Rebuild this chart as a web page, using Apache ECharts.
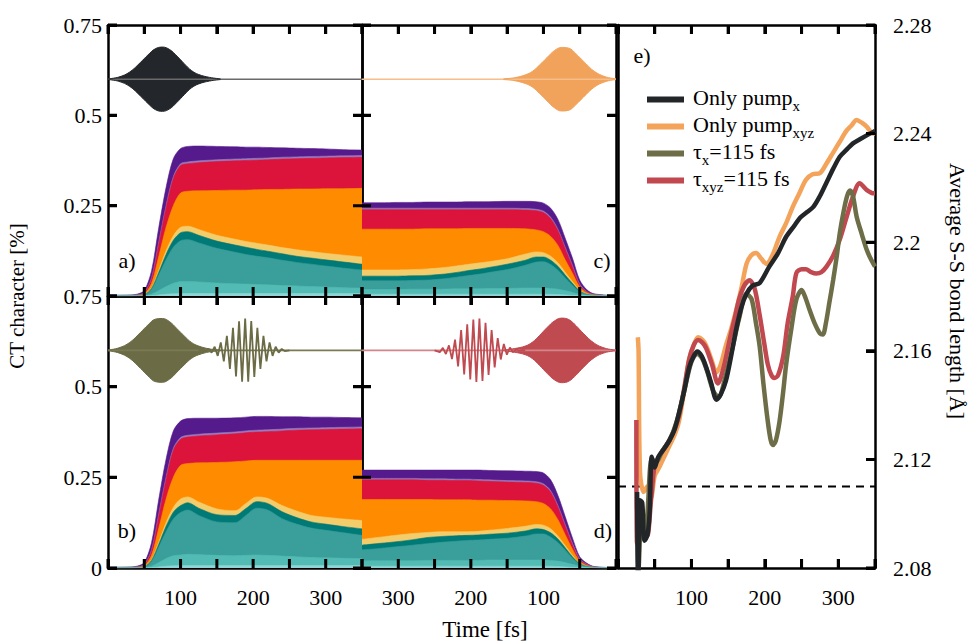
<!DOCTYPE html>
<html><head><meta charset="utf-8">
<script src="https://cdn.jsdelivr.net/npm/echarts@6/dist/echarts.min.js"></script>
<style>html,body{margin:0;padding:0;background:#fff}#c{width:974px;height:644px}</style>
</head><body><div id="c"></div>
<script>
const FONT = '"Liberation Serif", "Times New Roman", serif';

// ---------- stacked CT-character panels (cumulative layer tops) ----------
const timeGrid = [0,30,40,50,60,70,80,90,100,110,125,150,175,190,205,220,240,260,280,300,325,350];

const aPurple   = [.002,.003,.005,.015,.07,.19,.30,.38,.408,.414,.415,.414,.413,.412,.412,.411,.410,.409,.408,.407,.405,.404];
const aLavender = [.0015,.002,.003,.01,.05,.15,.25,.33,.366,.371,.374,.377,.379,.380,.381,.382,.384,.385,.386,.387,.388,.389];
const aCrimson  = [.001,.0015,.0025,.009,.047,.145,.245,.325,.361,.366,.369,.372,.374,.375,.376,.377,.379,.380,.381,.382,.383,.384];
const aOrange   = [.001,.001,.002,.006,.035,.11,.19,.25,.285,.29,.291,.292,.293,.293,.294,.295,.295,.296,.296,.297,.297,.298];
const aYellow   = [.0005,.0008,.0012,.004,.023,.072,.125,.167,.19,.193,.184,.168,.157,.151,.146,.141,.134,.128,.123,.118,.113,.108];
const aDarkTeal = [.0004,.0006,.001,.0035,.021,.066,.115,.154,.175,.178,.168,.152,.141,.135,.129,.124,.117,.110,.105,.100,.094,.088];
const aTeal     = [.0003,.0005,.0008,.003,.018,.058,.10,.135,.153,.156,.147,.132,.121,.115,.110,.106,.099,.093,.088,.083,.077,.072];
const aLightTeal= [.0002,.0003,.0005,.001,.005,.015,.026,.035,.040,.040,.039,.036,.034,.033,.032,.031,.029,.028,.026,.025,.023,.022];
const aPale     = [.0001,.0001,.0002,.0005,.001,.003,.005,.006,.007,.007,.007,.007,.007,.007,.007,.007,.007,.007,.007,.007,.007,.007];

const bPurple   = [.002,.003,.005,.015,.07,.19,.30,.378,.405,.412,.413,.413,.414,.416,.418,.418,.417,.417,.416,.416,.415,.414];
const bLavender = [.0015,.002,.003,.01,.05,.15,.25,.33,.36,.366,.369,.372,.375,.378,.380,.381,.383,.385,.386,.387,.388,.389];
const bCrimson  = [.001,.0015,.0025,.009,.047,.145,.245,.325,.355,.361,.364,.367,.370,.373,.375,.376,.378,.380,.381,.382,.383,.384];
const bOrange   = [.001,.001,.002,.006,.035,.11,.19,.25,.283,.288,.29,.291,.293,.295,.297,.297,.297,.297,.297,.297,.297,.297];
const bYellow   = [.0005,.0008,.0012,.004,.023,.072,.125,.167,.19,.196,.182,.163,.158,.178,.196,.192,.172,.157,.145,.140,.135,.131];
const bDarkTeal = [.0004,.0006,.001,.0035,.021,.066,.115,.154,.172,.180,.165,.147,.145,.164,.183,.178,.155,.139,.127,.121,.114,.108];
const bTeal     = [.0003,.0005,.0008,.003,.018,.058,.10,.135,.153,.160,.145,.127,.125,.145,.165,.160,.136,.121,.110,.104,.097,.090];
const bLightTeal= [.0002,.0003,.0005,.001,.005,.015,.026,.034,.036,.038,.037,.035,.034,.035,.036,.035,.033,.031,.029,.028,.027,.026];
const bPale     = [.0001,.0001,.0002,.0005,.001,.003,.005,.006,.007,.007,.007,.007,.007,.007,.007,.007,.007,.007,.007,.007,.007,.007];

const cPurple   = [.001,.006,.017,.044,.105,.16,.212,.243,.257,.261,.262,.262,.261,.261,.261,.260,.260,.260,.259,.259,.258,.258];
const cLavender = [.0008,.004,.012,.033,.085,.135,.185,.218,.235,.240,.242,.243,.243,.243,.243,.243,.243,.243,.243,.243,.243,.243];
const cCrimson  = [.0006,.0035,.011,.030,.081,.131,.181,.214,.231,.236,.238,.239,.239,.239,.239,.239,.239,.239,.239,.239,.239,.239];
const cOrange   = [.0006,.003,.009,.025,.063,.10,.14,.165,.178,.183,.186,.187,.187,.187,.187,.186,.186,.186,.185,.185,.185,.185];
const cYellow   = [.0004,.002,.006,.016,.04,.066,.092,.11,.12,.122,.116,.103,.095,.091,.087,.083,.078,.075,.073,.072,.072,.072];
const cDarkTeal = [.0003,.0018,.005,.014,.035,.058,.082,.099,.108,.108,.099,.088,.079,.074,.070,.065,.060,.057,.056,.055,.055,.055];
const cTeal     = [.0003,.0015,.004,.012,.03,.05,.071,.087,.095,.094,.085,.073,.065,.060,.056,.052,.047,.044,.043,.042,.042,.042];
const cLightTeal= [.0002,.0008,.002,.005,.01,.015,.019,.021,.022,.022,.022,.021,.021,.020,.020,.020,.019,.019,.019,.018,.018,.018];
const cPale     = [.0001,.0002,.0005,.001,.002,.003,.004,.005,.005,.005,.005,.005,.005,.005,.005,.005,.005,.005,.005,.005,.005,.005];

const dPurple   = [.001,.004,.013,.031,.083,.142,.20,.243,.262,.266,.267,.268,.269,.27,.27,.27,.27,.27,.27,.27,.27,.27];
const dLavender = [.0008,.003,.01,.025,.068,.12,.172,.213,.232,.238,.24,.241,.243,.244,.245,.245,.246,.246,.247,.247,.247,.247];
const dCrimson  = [.0006,.0025,.009,.022,.064,.116,.168,.209,.228,.234,.236,.237,.239,.240,.241,.241,.242,.242,.243,.243,.243,.243];
const dOrange   = [.0006,.002,.007,.019,.052,.092,.133,.163,.178,.183,.185,.186,.187,.187,.188,.188,.188,.189,.189,.189,.189,.189];
const dYellow   = [.0004,.0015,.005,.013,.035,.062,.088,.108,.118,.12,.115,.109,.104,.101,.10,.10,.10,.098,.095,.091,.085,.079];
const dDarkTeal = [.0003,.0013,.0045,.012,.031,.056,.08,.097,.106,.108,.102,.096,.093,.091,.09,.089,.087,.084,.078,.073,.068,.063];
const dTeal     = [.0003,.0011,.004,.01,.027,.049,.07,.085,.094,.094,.088,.082,.079,.077,.076,.074,.071,.067,.063,.059,.054,.05];
const dLightTeal= [.0002,.0007,.002,.005,.01,.015,.019,.021,.022,.022,.022,.022,.022,.021,.021,.021,.021,.021,.020,.020,.020,.020];
const dPale     = [.0001,.0002,.0005,.001,.002,.003,.004,.005,.005,.005,.005,.005,.005,.005,.005,.005,.005,.005,.005,.005,.005,.005];

// ---------- laser pulses drawn at the top of panels a-d ----------
const pulseCenter = 0.6;
const baseT = [0, 350];
const pulseT = [0,15,30,45,55,65,75,85,95,105,115,125,140,155];
const aPulseAmp = [.001,.006,.02,.047,.067,.084,.089,.082,.064,.043,.024,.013,.005,.001];
const bPulseAmp = [.001,.007,.022,.05,.07,.086,.088,.079,.06,.04,.022,.012,.004,.001];
const cPulseAmp = [.001,.007,.022,.05,.07,.086,.088,.079,.06,.04,.022,.012,.004,.001];
const dPulseAmp = [.001,.006,.02,.047,.068,.085,.089,.081,.063,.042,.023,.012,.005,.001];
const bOscT = [125,130.2,134.4,138.6,142.8,147,151.2,155.4,159.6,163.8,168,172.2,176.4,180.6,184.8,189,193.2,197.4,201.6,205.8,210,214.2,218.4,222.6,226.8,231,235.2,239.4,243.6,250];
const bOscV = [0.6,0.601,0.598,0.604,0.594,0.61,0.585,0.622,0.57,0.64,0.549,0.662,0.528,0.68,0.514,0.688,0.514,0.681,0.527,0.662,0.549,0.64,0.57,0.622,0.585,0.61,0.594,0.604,0.598,0.6];
const dOscT = [125,129.4,133.6,137.8,142,146.2,150.4,154.6,158.8,163,167.2,171.4,175.6,179.8,184,188.2,192.4,196.6,200.8,205,209.2,213.4,217.6,221.8,226,230.2,234.4,238.6,242.8,250];
const dOscV = [0.6,0.601,0.599,0.603,0.595,0.608,0.588,0.618,0.575,0.634,0.553,0.656,0.532,0.676,0.516,0.688,0.513,0.685,0.52,0.672,0.534,0.656,0.556,0.63,0.576,0.614,0.59,0.607,0.595,0.6];

// ---------- panel e: average S-S bond length ----------
const blackT = [26,27.5,30,33,36,40,43,46,50,55,63,70,77,83,90,97,103,108,114,120,127,134,140,147,154,161,168,175,183,193,206,218,229,240,248,257,266,275,284,293,302,311,320,330,343,350];
const blackV = [2.108,2.07,2.105,2.104,2.090,2.092,2.100,2.121,2.117,2.121,2.124,2.127,2.131,2.137,2.145,2.154,2.158,2.1597,2.158,2.154,2.148,2.142,2.144,2.149,2.158,2.168,2.176,2.181,2.184,2.185,2.191,2.196,2.202,2.206,2.209,2.211,2.213,2.217,2.222,2.227,2.2315,2.234,2.2364,2.238,2.240,2.241];
const orangeT = [27,28,30,35,40,45,50,56,63,70,77,83,90,97,103,109,115,120,127,134,140,147,154,161,168,175,181,188,195,202,210,220,229,238,247,256,265,275,284,293,302,311,318,325,332,339,347,350];
const orangeV = [2.165,2.160,2.115,2.108,2.110,2.106,2.114,2.117,2.121,2.125,2.129,2.134,2.145,2.157,2.162,2.165,2.164,2.162,2.157,2.152,2.155,2.162,2.168,2.175,2.183,2.192,2.195,2.196,2.194,2.192,2.195,2.202,2.207,2.213,2.218,2.223,2.225,2.2254,2.229,2.233,2.237,2.241,2.243,2.245,2.244,2.2425,2.240,2.240];
const redT = [25,26,30,35,40,45,50,56,63,70,77,83,90,97,103,109,115,120,128,136,144,152,159,165,172,179,186,193,199,204,209,213,218,225,231,238,243,250,256,263,270,277,284,293,302,311,320,329,339,348,350];
const redV = [2.1345,2.089,2.100,2.098,2.092,2.105,2.118,2.121,2.124,2.127,2.131,2.136,2.146,2.157,2.162,2.164,2.163,2.161,2.155,2.148,2.154,2.164,2.172,2.179,2.184,2.186,2.183,2.173,2.163,2.155,2.151,2.150,2.151,2.158,2.170,2.180,2.1887,2.190,2.190,2.189,2.1885,2.189,2.191,2.195,2.201,2.209,2.2168,2.2217,2.2192,2.218,2.218];
const oliveT = [26,28,32,36,40,46,52,60,70,80,90,100,108,115,122,130,137,145,155,165,175,182,188,193,198,204,208,211,215,220,225,229,236,243,250,256,261,268,275,279,283,288,293,298,302,307,312,316,320,325,332,339,345,350];
const oliveV = [2.105,2.08,2.100,2.092,2.100,2.120,2.119,2.123,2.127,2.134,2.145,2.156,2.159,2.157,2.152,2.145,2.143,2.149,2.160,2.172,2.181,2.179,2.170,2.1615,2.148,2.134,2.127,2.1253,2.127,2.134,2.145,2.155,2.168,2.179,2.1824,2.179,2.175,2.170,2.1664,2.166,2.170,2.178,2.186,2.195,2.2033,2.211,2.217,2.219,2.217,2.2094,2.203,2.197,2.1934,2.191];
const refBond = 2.11;

const seriesNames = ['Only pump_x','Only pump_xyz','tau_x=115 fs','tau_xyz=115 fs'];
const legendText = {
  'Only pump_x': '{m|Only pump}{s|x}',
  'Only pump_xyz': '{m|Only pump}{s|xyz}',
  'tau_x=115 fs': '{m|τ}{s|x}{m|=115 fs}',
  'tau_xyz=115 fs': '{m|τ}{s|xyz}{m|=115 fs}'
};
const ctRange = [0, 0.75], ctStep = 0.25;
const timeRange = [0, 350], timeStep = 50;
const bondRange = [2.08, 2.28], bondStep = 0.04;

// ---------- build ----------
const layerColors = ['#551b8c','#9b7cbf','#dc143c','#ff8c00','#f3cd6b','#007a76','#3a9e9a','#52bbb3','#8fd5d5'];
const pairs = (t, v) => t.map((x, i) => [x, v[i]]);
const TL = 9, TW = 3;

const grids = [
  {left:108, top:25, width:254, height:271},
  {left:108, top:296, width:254, height:272},
  {left:362, top:25, width:254, height:271},
  {left:362, top:296, width:254, height:272},
  {left:618, top:25, width:257, height:543}
];

const lineAxis = () => ({show:true, onZero:false, lineStyle:{color:'#000', width:2.5}});
const tickIn = () => ({show:true, inside:true, length:TL, lineStyle:{color:'#000', width:TW}});
const labelOn = (extra) => Object.assign({show:true, color:'#000', fontFamily:FONT, fontSize:22}, extra);
const hundreds = v => (v % 100 === 0 && v > 0) ? String(v) : '';

function xAx(gi, pos, showLabel, inv) {
  return {type:'value', gridIndex:gi, position:pos, min:timeRange[0], max:timeRange[1], interval:timeStep, inverse:!!inv,
    axisLine:lineAxis(), axisTick:tickIn(), splitLine:{show:false},
    axisLabel: showLabel ? labelOn({margin:18, formatter:hundreds}) : {show:false}};
}
function yAx(gi, pos, showLabel, hideZero) {
  return {type:'value', gridIndex:gi, position:pos, min:ctRange[0], max:ctRange[1], interval:ctStep,
    axisLine:lineAxis(), axisTick:tickIn(), splitLine:{show:false},
    axisLabel: showLabel ? labelOn({margin:6, formatter: v => (hideZero && v === 0) ? '' : String(v)}) : {show:false}};
}

const xAxis = [
  xAx(0,'bottom',false), xAx(0,'top',false),
  xAx(1,'bottom',true), xAx(1,'top',false),
  xAx(2,'bottom',false,true), xAx(2,'top',false,true),
  xAx(3,'bottom',true,true), xAx(3,'top',false,true),
  xAx(4,'bottom',true), xAx(4,'top',false)
];
const yAxis = [
  yAx(0,'left',true,true), yAx(0,'right',false),
  yAx(1,'left',true,false), yAx(1,'right',false),
  yAx(2,'left',false), yAx(2,'right',false),
  yAx(3,'left',false), yAx(3,'right',false),
  {type:'value', gridIndex:4, position:'left', min:bondRange[0], max:bondRange[1], axisLine:lineAxis(), axisTick:{show:false}, axisLabel:{show:false}, splitLine:{show:false}},
  {type:'value', gridIndex:4, position:'right', min:bondRange[0], max:bondRange[1], interval:bondStep,
    axisLine:lineAxis(), axisTick:tickIn(), splitLine:{show:false}, axisLabel:labelOn({margin:18})}
];

const series = [];
function addStack(layers, gi) {
  layers.forEach((vals, k) => series.push({
    type:'line', xAxisIndex:2*gi, yAxisIndex:2*gi, data:pairs(timeGrid, vals),
    symbol:'none', smooth:0.3, silent:true,
    lineStyle:{width:0.6, color:layerColors[k]},
    areaStyle:{color:layerColors[k], opacity:1}
  }));
}
function addPulse(gi, amp, color, baseColor, oscT, oscV) {
  const ax = {xAxisIndex:2*gi, yAxisIndex:2*gi, symbol:'none', silent:true};
  series.push(Object.assign({type:'line', data:pairs(baseT, baseT.map(() => pulseCenter)), lineStyle:{color:baseColor, width:1.6}}, ax));
  if (oscT) series.push(Object.assign({type:'line', data:pairs(oscT, oscV), lineStyle:{color:color, width:1.8}}, ax));
  series.push(Object.assign({type:'line', smooth:0.4, data:pulseT.map((t,i)=>[t, pulseCenter+amp[i]]), lineStyle:{color:color, width:1}, areaStyle:{color:color, opacity:1, origin:pulseCenter}}, ax));
  series.push(Object.assign({type:'line', smooth:0.4, data:pulseT.map((t,i)=>[t, pulseCenter-amp[i]]), lineStyle:{color:color, width:1}, areaStyle:{color:color, opacity:1, origin:pulseCenter}}, ax));
}
addStack([aPurple,aLavender,aCrimson,aOrange,aYellow,aDarkTeal,aTeal,aLightTeal,aPale], 0);
addStack([bPurple,bLavender,bCrimson,bOrange,bYellow,bDarkTeal,bTeal,bLightTeal,bPale], 1);
addStack([cPurple,cLavender,cCrimson,cOrange,cYellow,cDarkTeal,cTeal,cLightTeal,cPale], 2);
addStack([dPurple,dLavender,dCrimson,dOrange,dYellow,dDarkTeal,dTeal,dLightTeal,dPale], 3);
addPulse(0, aPulseAmp, '#23272b', '#6a6a6a');
addPulse(1, bPulseAmp, '#6b6b45', '#7a7a55', bOscT, bOscV);
addPulse(2, cPulseAmp, '#f2a35b', '#f6be8a');
addPulse(3, dPulseAmp, '#bf4a50', '#d4858a', dOscT, dOscV);

const eAx = {xAxisIndex:8, yAxisIndex:9, symbol:'none'};
series.push(Object.assign({type:'line', name:'ref', silent:true, data:pairs(timeRange, timeRange.map(()=>refBond)), lineStyle:{color:'#000', width:2, type:[8,6]}}, eAx));
series.push(Object.assign({type:'line', name:seriesNames[1], data:pairs(orangeT, orangeV), smooth:0.3, lineStyle:{color:'#f3a35a', width:4.5}, itemStyle:{color:'#f3a35a'}}, eAx));
series.push(Object.assign({type:'line', name:seriesNames[3], data:pairs(redT, redV), smooth:0.3, lineStyle:{color:'#c0484e', width:4.5}, itemStyle:{color:'#c0484e'}}, eAx));
series.push(Object.assign({type:'line', name:seriesNames[2], data:pairs(oliveT, oliveV), smooth:0.3, lineStyle:{color:'#6d6d47', width:4.5}, itemStyle:{color:'#6d6d47'}}, eAx));
series.push(Object.assign({type:'line', name:seriesNames[0], data:pairs(blackT, blackV), smooth:0.3, lineStyle:{color:'#222629', width:4.5}, itemStyle:{color:'#222629'}}, eAx));

// Mirrored inward frame ticks, placed at the axis tick values through each panel's own axes.
const steps = (r, s) => { const out = []; for (let k = 0; r[0] + k*s <= r[1] + 1e-9; k++) out.push(+(r[0] + k*s).toFixed(6)); return out; };
function frameTicks(xi, yi, g, xr, yr, xs, ys, yLeft, yRight) {
  const dy = (yr[1] - yr[0]) * TL / g.height;
  const dx = (xr[1] - xr[0]) * TL / g.width;
  const d = [];
  steps(xr, xs).forEach(v => {
    d.push([v, yr[1]], [v, yr[1] - dy], [v, '-']);
    d.push([v, yr[0]], [v, yr[0] + dy], [v, '-']);
  });
  steps(yr, ys).forEach(v => {
    if (yLeft) d.push([xr[0], v], [xr[0] + dx, v], [xr[0], '-']);
    if (yRight) d.push([xr[1], v], [xr[1] - dx, v], [xr[1], '-']);
  });
  return {type:'line', xAxisIndex:xi, yAxisIndex:yi, data:d, symbol:'none', silent:true, z:6, clip:false,
    connectNulls:false, lineStyle:{color:'#000', width:TW, cap:'butt'}};
}
for (let gi = 0; gi < 4; gi++) series.push(frameTicks(2*gi, 2*gi, grids[gi], timeRange, ctRange, timeStep, ctStep, true, true));
series.push(frameTicks(8, 9, grids[4], timeRange, bondRange, timeStep, bondStep, false, true));

const txt = (text, x, y, rot, size) => ({type:'text', x:x, y:y, rotation:rot||0, silent:true,
  style:{text:text, fill:'#000', fontFamily:FONT, fontSize:size||22, align:'center', verticalAlign:'middle'}});

const option = {
  animation:false,
  grid:grids, xAxis:xAxis, yAxis:yAxis, series:series,
  legend:{show:true, left:647, top:86, orient:'vertical', padding:0, itemGap:0, itemWidth:37, itemHeight:6, icon:'rect',
    data:seriesNames, selectedMode:false, formatter: n => legendText[n],
    textStyle:{color:'#000', fontFamily:FONT, fontSize:22, padding:[0,0,0,4],
      rich:{m:{fontFamily:FONT, fontSize:22, color:'#000', padding:[0,0,5,0], verticalAlign:'bottom'},
            s:{fontFamily:FONT, fontSize:15, color:'#000', verticalAlign:'bottom'}}}},
  graphic:[
    txt('CT character [%]', 17, 296, Math.PI/2, 21),
    txt('Average S-S bond length [Å]', 957, 291, -Math.PI/2, 22),
    txt('Time [fs]', 485, 629, 0, 23),
    txt('a)', 127, 260), txt('b)', 127, 530), txt('c)', 602, 260), txt('d)', 603, 530), txt('e)', 642, 55)
  ]
};
const chart = echarts.init(document.getElementById('c'), null, {renderer:'svg', width:974, height:644});
chart.setOption(option);
</script></body></html>
